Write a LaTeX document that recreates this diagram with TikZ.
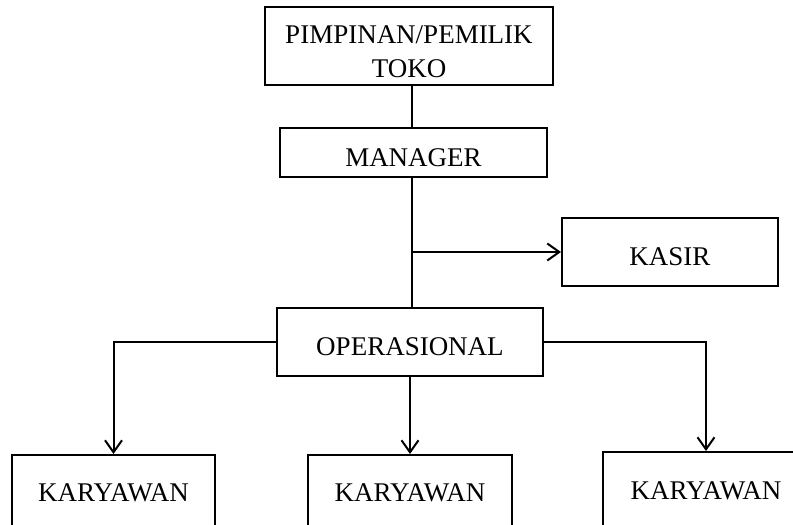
\documentclass[tikz,border=0pt]{standalone}
\usepackage{fontspec}
\setmainfont{Liberation Serif}
\usetikzlibrary{arrows.meta}
\begin{document}
\begin{tikzpicture}[x=1pt,y=-1pt,line width=2pt,
  txt/.style={inner sep=0pt,font=\fontsize{27}{34}\selectfont},
  box/.style={draw,line width=2pt,inner sep=0pt,font=\fontsize{27}{34}\selectfont,text height=27pt,text depth=0pt},
  lowbox/.style={box,text height=19pt},
  arr/.style={-{Straight Barb[length=12pt,width=17pt,line width=2pt]}}]
\useasboundingbox (0,0) rectangle (793,525);
\clip (0,0) rectangle (793,525);
\coordinate (spine) at (412,0);
\node[box,minimum width=288pt,minimum height=78pt] (top) at (409,46) {};
\node[txt,anchor=base] (t1) at (409,43) {PIMPINAN/PEMILIK};
\node[txt,anchor=base] (t2) at (409,77) {TOKO};
\node[box,minimum width=267pt,minimum height=49pt] (man) at (413.5,152.5) {MANAGER};
\node[box,minimum width=216pt,minimum height=68pt] (kas) at (670,252) {KASIR};
\node[box,minimum width=266pt,minimum height=68pt] (op) at (410,342) {OPERASIONAL};
\node[lowbox,minimum width=203pt,minimum height=74pt] (k1) at (113.5,492) {KARYAWAN};
\node[lowbox,minimum width=204pt,minimum height=74pt] (k2) at (410,492) {KARYAWAN};
\node[lowbox,minimum width=206pt,minimum height=76pt] (k3) at (706,490) {KARYAWAN};
\draw (spine |- top.south) -- (spine |- man.north);
\draw (spine |- man.south) -- (spine |- op.north);
\draw[arr] (spine |- kas.west) -- (kas.west);
\draw[arr] (op.west) -| (k1.north);
\draw[arr] (op.south) -- (k2.north);
\draw[arr] (op.east) -| (k3.north);
\end{tikzpicture}
\end{document}
